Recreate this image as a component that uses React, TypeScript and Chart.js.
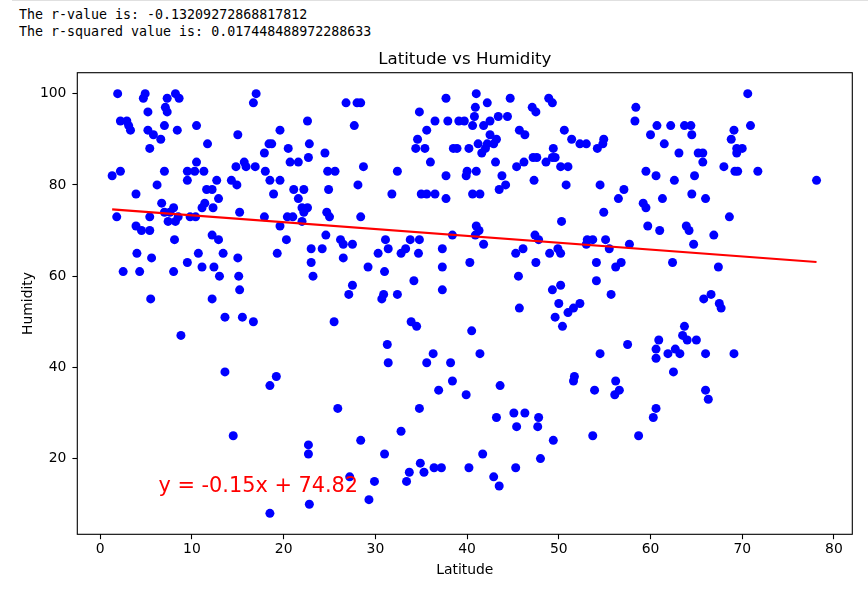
import React, { useEffect, useRef } from "react";
import { Chart, registerables } from "chart.js";

Chart.register(...registerables);

// ---- data ----
const LATITUDE: number[] = [
  1.9, 4.9, 4.7, 7.3, 8.2, 8.6, 7.1, 7.3, 5.2, 2.2, 2.9, 3.1, 3.3, 5.2, 5.8, 7.0, 8.4, 6.6, 5.4, 10.5,
  11.7, 15.0, 17.0, 16.7, 1.3, 2.2, 7.0, 6.2, 3.9, 9.5, 9.5, 10.5, 10.3, 11.3, 12.7, 11.6, 12.2, 12.9, 11.4, 11.1,
  12.3, 14.3, 14.9, 14.8, 15.7, 15.9, 16.9, 15.2, 6.7, 7.0, 8.0, 7.6, 8.5, 1.8, 5.4, 9.8, 10.4, 7.4, 8.2, 3.9,
  4.5, 5.4, 8.1, 12.2, 12.9, 4.0, 5.6, 10.7, 13.4, 15.0, 2.5, 4.3, 8.0, 9.5, 11.1, 12.4, 13.0, 15.1, 15.2, 5.5,
  12.2, 13.6, 15.5, 16.7, 8.8, 13.6, 14.5,
  26.8, 28.0, 28.4, 22.6, 27.7, 19.6, 18.4, 18.7, 22.8, 17.9, 20.5, 24.5, 20.7, 21.6, 22.7, 18.0, 18.5, 19.6, 24.8, 25.6,
  28.7, 28.1, 18.9, 21.1, 22.2, 24.9, 21.6, 22.0, 22.6, 22.2, 22.0, 24.7, 25.0, 17.9, 20.4, 21.0, 28.4, 19.6, 20.3, 24.6,
  19.3, 23.0, 24.2, 26.2, 26.5, 27.5, 26.5, 23.0, 23.2, 29.2, 27.5, 27.1, 30.7, 30.9, 31.0, 30.3, 31.4, 31.1, 32.4, 32.8,
  33.3, 33.8, 34.8, 34.7, 34.2, 37.3, 37.3, 37.3, 38.4, 31.8, 32.4, 35.0, 35.6, 36.5, 37.7, 37.7, 36.0, 34.4, 35.4, 34.6,
  35.6, 36.5, 37.9, 34.8, 37.7, 38.5,
  25.5, 33.9, 34.5, 31.3, 31.4, 36.3, 35.6, 38.2, 38.4, 36.9, 19.2, 18.5, 25.9, 34.8, 32.8, 28.4, 22.7, 22.7, 31.0, 27.2,
  29.9, 29.3, 22.8, 18.5, 33.4, 33.7, 34.9, 35.3, 36.4, 37.2,
  38.9, 41.0, 42.2, 44.7, 40.9, 40.8, 39.1, 39.7, 40.6, 41.8, 42.5, 43.4, 44.4, 47.1, 47.5, 48.9, 49.3, 58.4, 58.3, 60.0,
  42.5, 43.2, 42.9, 42.2, 41.2, 41.6, 42.0, 40.2, 45.7, 46.3, 50.6, 51.4, 52.3, 53.0, 54.9, 54.8, 54.2, 49.4, 43.1, 45.4,
  46.2, 47.2, 47.6, 48.6, 49.3, 49.6, 50.2, 51.0, 40.0, 41.0, 39.9, 43.8, 44.2, 43.5, 47.3, 50.8, 54.5, 59.5, 40.6, 41.4,
  57.1, 56.5, 59.2, 59.5, 54.9, 50.3, 59.7, 41.0, 41.3, 40.9, 41.8, 47.4, 47.8, 53.1, 53.7, 53.0, 55.1, 55.5, 57.7, 46.1,
  45.3, 49.0, 49.9, 50.2, 40.3, 47.5, 54.1, 45.6, 54.1, 56.2, 56.8, 50.2, 49.3, 55.7, 50.0, 52.3, 45.7,
  51.6, 51.0, 49.6, 50.4, 40.5, 41.4, 39.9, 43.6, 57.5, 54.5, 51.7, 51.6, 53.9, 56.2, 56.6, 56.1, 58.7, 53.7, 43.2, 45.1,
  46.3, 45.4, 47.8, 47.7, 49.4, 41.7, 40.2, 45.3, 48.0, 42.9, 43.5,
  70.6, 60.7, 62.2, 63.7, 64.4, 64.5, 61.5, 63.1, 65.2, 65.7, 65.7, 69.1, 70.9, 68.8, 69.4, 70.0, 69.4, 68.0, 69.2, 69.5,
  71.7, 78.1, 60.6, 62.6, 64.8, 61.3, 64.5, 66.0, 68.6, 61.0, 63.9, 64.2, 66.9, 64.7, 62.4, 67.4, 65.8, 66.6, 67.5,
  67.7, 63.7, 63.5, 64.0, 65.0, 60.9, 60.6, 60.6, 61.9, 62.7, 63.2, 66.0, 69.1, 62.5, 66.0, 66.3, 60.6, 60.3,
];

const HUMIDITY: number[] = [
  100, 100, 99, 99, 100, 99, 97, 96, 96, 94, 94, 93, 92, 92, 91, 93, 92, 90, 88, 93,
  89, 91, 100, 98, 82, 83, 83, 80, 78, 83, 81, 85, 83, 83, 81, 79, 79, 77, 76, 75,
  75, 81, 80, 84, 85, 84, 84, 74, 76, 74, 75, 74, 73, 73, 73, 73, 73, 72, 72, 71,
  70, 70, 68, 69, 68, 65, 64, 65, 65, 64, 61, 61, 61, 63, 62, 62, 60, 60, 57, 55,
  55, 51, 51, 50, 47, 39, 25,
  98, 98, 98, 94, 93, 92, 89, 89, 89, 87, 88, 87, 85, 85, 86, 83, 81, 81, 83, 83,
  84, 80, 78, 79, 79, 79, 77, 75, 75, 74, 72, 74, 73, 73, 73, 73, 73, 71, 68, 69,
  65, 66, 66, 68, 67, 67, 64, 63, 60, 62, 58, 56, 55, 56, 61, 65, 66, 68, 56, 65,
  66, 68, 68, 65, 59, 66, 62, 57, 69, 78, 83, 78, 78, 78, 77, 82, 85, 88, 88, 90,
  92, 94, 94, 96, 99, 88,
  50, 50, 49, 45, 41, 43, 41, 41, 37, 35, 38, 36, 31, 31, 26, 24, 23, 21, 21, 16,
  15, 11, 10, 8, 15, 17, 19, 17, 18, 18,
  88, 100, 98, 99, 97, 95, 94, 94, 93, 93, 94, 95, 95, 97, 96, 99, 98, 97, 94, 91,
  91, 90, 89, 89, 89, 87, 88, 88, 92, 91, 92, 90, 89, 89, 90, 89, 88, 88, 85, 84,
  85, 86, 86, 85, 86, 86, 84, 84, 83, 83, 82, 82, 80, 79, 81, 80, 80, 83, 78, 78,
  79, 77, 76, 75, 74, 72, 71, 71, 70, 69, 67, 69, 68, 68, 68, 67, 68, 66, 67, 66,
  65, 65, 66, 65, 63, 63, 63, 60, 59, 62, 63, 58, 57, 56, 54, 54, 53,
  53, 52, 51, 49, 48, 43, 34, 36, 45, 43, 38, 37, 35, 37, 35, 34, 25, 25, 29, 30,
  30, 27, 29, 27, 24, 21, 18, 18, 20, 16, 14,
  100, 93, 93, 93, 93, 91, 89, 87, 87, 87, 85, 92, 93, 90, 88, 88, 87, 84, 83, 83,
  83, 81, 82, 81, 82, 77, 78, 77, 73, 70, 71, 70, 69, 67, 63, 62, 55, 56, 54,
  53, 49, 47, 46, 46, 46, 44, 42, 43, 44, 43, 43, 43, 39, 35, 33, 31, 29,
];

const X_TICKS: number[] = [0, 10, 20, 30, 40, 50, 60, 70, 80];
const Y_TICKS: number[] = [20, 40, 60, 80, 100];

const SLOPE = -0.15;
const INTERCEPT = 74.82;
const EQUATION_TEXT = "y = -0.15x + 74.82";
const EQUATION_AT = { x: 6.36, y: 12.65 };

const R_VALUE_TEXT = "The r-value is: -0.13209272868817812";
const R_SQUARED_TEXT = "The r-squared value is: 0.017448488972288633";

const TITLE = "Latitude vs Humidity";
const X_LABEL = "Latitude";
const Y_LABEL = "Humidity";

const FONT = "'DejaVu Sans', 'Liberation Sans', sans-serif";

export default function App() {
  const canvasRef = useRef<HTMLCanvasElement | null>(null);

  useEffect(() => {
    const canvas = canvasRef.current;
    if (!canvas) return;

    const points = LATITUDE.map((x, i) => ({ x, y: HUMIDITY[i] }));
    const xMin = Math.min(...LATITUDE);
    const xMax = Math.max(...LATITUDE);
    const regress = [
      { x: xMin, y: SLOPE * xMin + INTERCEPT },
      { x: xMax, y: SLOPE * xMax + INTERCEPT },
    ];

    const framePlugin = {
      id: "frame",
      afterDraw(chart: any) {
        const { ctx, chartArea } = chart;
        ctx.save();
        ctx.strokeStyle = "#000";
        ctx.lineWidth = 1.1;
        ctx.strokeRect(chartArea.left, chartArea.top, chartArea.right - chartArea.left, chartArea.bottom - chartArea.top);
        ctx.restore();
      },
    };

    const equationPlugin = {
      id: "equation",
      afterDatasetsDraw(chart: any) {
        const { ctx, scales } = chart;
        ctx.save();
        ctx.font = `20.83px ${FONT}`;
        ctx.fillStyle = "#ff0000";
        ctx.textAlign = "left";
        ctx.textBaseline = "alphabetic";
        ctx.fillText(EQUATION_TEXT, scales.x.getPixelForValue(EQUATION_AT.x), scales.y.getPixelForValue(EQUATION_AT.y));
        ctx.restore();
      },
    };

    const tickFont = { family: FONT, size: 13.9, lineHeight: 1.2 };

    const chart = new Chart(canvas, {
      type: "scatter",
      data: {
        datasets: [
          {
            label: "regression",
            data: regress,
            showLine: true,
            borderColor: "#ff0000",
            backgroundColor: "#ff0000",
            borderWidth: 2.2,
            pointRadius: 0,
            pointHoverRadius: 0,
            order: 0,
          } as any,
          {
            label: "cities",
            data: points,
            backgroundColor: "#0000ff",
            borderColor: "#0000ff",
            borderWidth: 0,
            pointRadius: 4.5,
            pointHoverRadius: 4.5,
            order: 1,
          },
        ],
      },
      options: {
        animation: false,
        responsive: false,
        events: [],
        layout: { padding: { left: 0, right: 15.7, top: 0, bottom: 0 } },
        plugins: {
          legend: { display: false },
          tooltip: { enabled: false },
          title: {
            display: true,
            text: TITLE,
            fullSize: false,
            color: "#000",
            font: { family: FONT, size: 16.67, weight: "normal", lineHeight: 1.2 },
            padding: { top: 49.9, bottom: 2.8 },
          },
        },
        scales: {
          x: {
            type: "linear",
            position: "bottom",
            min: -2.5,
            max: 82,
            afterBuildTicks: (s: any) => {
              s.ticks = X_TICKS.map((v) => ({ value: v }));
            },
            afterFit: (s: any) => {
              s.height = 55.7;
            },
            grid: { drawOnChartArea: false, drawTicks: true, tickLength: 4.9, tickColor: "#000", tickWidth: 1.1 },
            border: { display: false },
            ticks: { color: "#000", font: tickFont, padding: 1.7, maxRotation: 0, autoSkip: false },
            title: {
              display: true,
              text: X_LABEL,
              color: "#000",
              font: tickFont,
              padding: { top: 0, bottom: 11.5 },
            },
          },
          y: {
            type: "linear",
            position: "left",
            min: 3.4,
            max: 104.6,
            afterBuildTicks: (s: any) => {
              s.ticks = Y_TICKS.map((v) => ({ value: v }));
            },
            afterFit: (s: any) => {
              s.width = 77.3;
            },
            grid: { drawOnChartArea: false, drawTicks: true, tickLength: 4.9, tickColor: "#000", tickWidth: 1.1 },
            border: { display: false },
            ticks: { color: "#000", font: tickFont, padding: 6, autoSkip: false },
            title: {
              display: true,
              text: Y_LABEL,
              color: "#000",
              font: tickFont,
              padding: { top: 19.7, bottom: 0 },
            },
          },
        },
      } as any,
      plugins: [framePlugin, equationPlugin],
    });

    return () => {
      chart.destroy();
    };
  }, []);

  const textStyle: React.CSSProperties = {
    position: "absolute",
    left: 19,
    fontFamily: "'DejaVu Sans Mono', 'Liberation Mono', monospace",
    fontSize: "13.3px",
    lineHeight: "17px",
    whiteSpace: "pre",
    color: "#000",
    margin: 0,
  };

  return (
    <div style={{ position: "absolute", left: 0, top: 0, width: 868, height: 590, background: "#fff", overflow: "hidden" }}>
      <div style={{ position: "absolute", left: 12, top: 0, width: 856, height: 1, background: "#e0e0e0" }} />
      <div style={{ ...textStyle, top: 5.6 }}>{R_VALUE_TEXT}</div>
      <div style={{ ...textStyle, top: 22.6 }}>{R_SQUARED_TEXT}</div>
      <canvas ref={canvasRef} width={868} height={590} style={{ position: "absolute", left: 0, top: 0 }} />
    </div>
  );
}
